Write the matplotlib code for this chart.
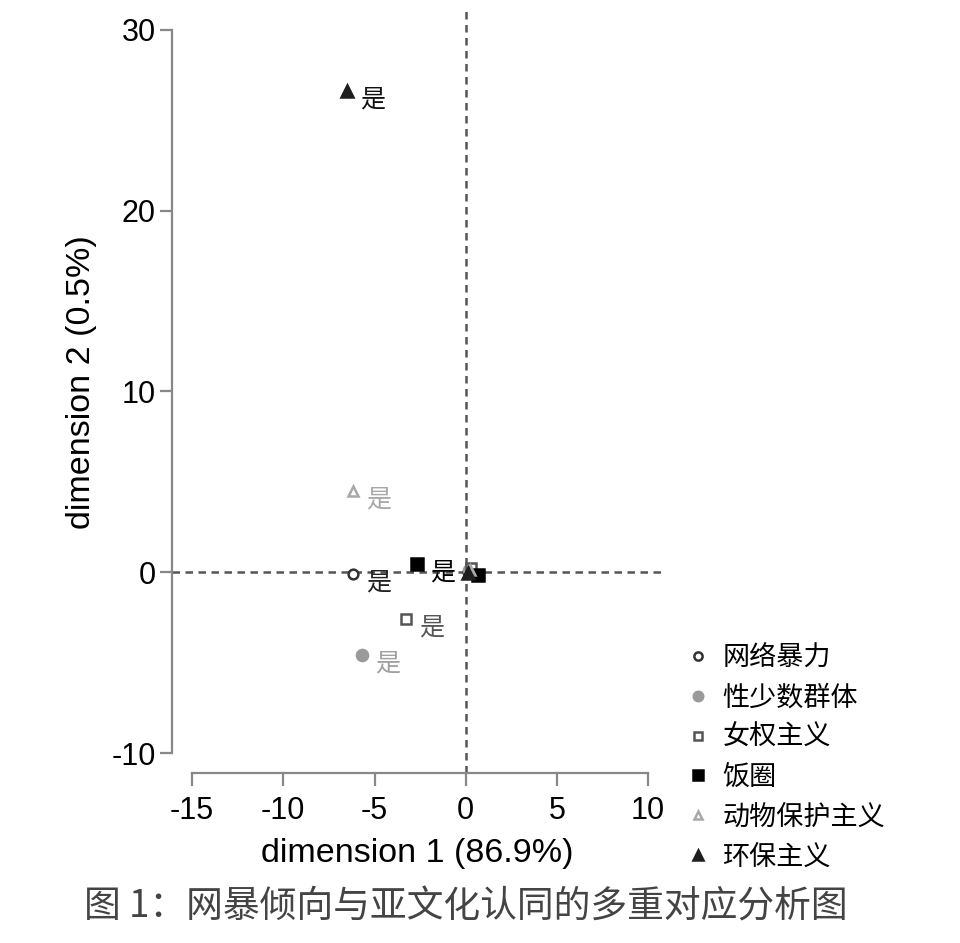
import numpy as np
import matplotlib.pyplot as plt
from matplotlib.lines import Line2D

plt.rcParams['font.family'] = ['Liberation Sans', 'Noto Sans CJK SC', 'DejaVu Sans']

# categories and coordinates ("是" = yes, "否" = no near origin)
groups = ['网络暴力', '性少数群体', '女权主义', '饭圈', '动物保护主义', '环保主义']
yes_x = [-6.2, -5.7, -3.3, -2.65, -6.2, -6.5]
yes_y = [-0.1, -4.6, -2.6, 0.45, 4.5, 26.6]
no_x = [0.1, 0.2, 0.3, 0.65, 0.25, 0.1]
no_y = [0.0, 0.1, 0.25, -0.15, 0.1, -0.05]
yes_label = '是'

markers = ['o', 'o', 's', 's', '^', '^']
edge_cols = ['#333333', '#9a9a9a', '#555555', '#000000', '#a8a8a8', '#1e1e1e']
face_cols = ['white', '#9a9a9a', 'white', '#000000', 'white', '#1e1e1e']
text_cols = ['#222222', '#a0a0a0', '#555555', '#000000', '#a8a8a8', '#111111']
sizes = [7, 8, 7, 8.5, 7.5, 9]

xticks = [-15, -10, -5, 0, 5, 10]
yticks = [-10, 0, 10, 20, 30]

fig = plt.figure(figsize=(9.6, 9.43), dpi=100)
ax = fig.add_axes([0.1792, 0.1803, 0.5115, 0.8093])

ax.axhline(0, color='#555555', linestyle=(0, (3, 2.2)), linewidth=1.8, zorder=1)
ax.axvline(0, color='#555555', linestyle=(0, (3, 2.2)), linewidth=1.8, zorder=1)

for i in range(len(groups)):
    ax.plot(no_x[i], no_y[i], marker=markers[i], markersize=sizes[i],
            markerfacecolor=face_cols[i], markeredgecolor=edge_cols[i],
            markeredgewidth=1.8, linestyle='none', zorder=3)
    ax.plot(yes_x[i], yes_y[i], marker=markers[i], markersize=sizes[i],
            markerfacecolor=face_cols[i], markeredgecolor=edge_cols[i],
            markeredgewidth=1.8, linestyle='none', zorder=3)
    ax.annotate(yes_label, (yes_x[i], yes_y[i]), xytext=(18.5, -6),
                textcoords='offset points', ha='center', va='center',
                fontsize=18, color=text_cols[i])

ax.set_xlim(-16.1, 10.82)
ax.set_ylim(-11.1, 31.1)
ax.set_xticks(xticks)
ax.set_yticks(yticks)
ax.set_xticklabels([str(t) for t in xticks])
ax.set_yticklabels([str(t) for t in yticks])

for s in ['top', 'right']:
    ax.spines[s].set_visible(False)
ax.spines['left'].set_bounds(-10, 30)
ax.spines['bottom'].set_bounds(-15, 10)
for s in ['left', 'bottom']:
    ax.spines[s].set_color('#888888')
    ax.spines[s].set_linewidth(1.6)

ax.tick_params(axis='x', length=9.5, width=1.6, color='#888888', labelsize=22, pad=7)
ax.tick_params(axis='y', length=8.6, width=1.6, color='#888888', labelsize=22, pad=3)

ax.set_xlabel('dimension 1 (86.9%)', fontsize=24.5)
ax.set_ylabel('dimension 2 (0.5%)', fontsize=24.5)
ax.xaxis.label.set_va('center')
ax.yaxis.label.set_va('center')
ax.xaxis.set_label_coords(0.50, -0.106)
ax.yaxis.set_label_coords(-0.185, 0.512)

handles = [Line2D([], [], marker=markers[i], markersize=sizes[i] * 0.85,
                  markerfacecolor=face_cols[i], markeredgecolor=edge_cols[i],
                  markeredgewidth=1.8, linestyle='none') for i in range(len(groups))]
fig.legend(handles, groups, loc='upper left', bbox_to_anchor=(0.7125, 0.3155),
           frameon=False, fontsize=19.5, handlelength=1.0, handletextpad=0.42,
           labelspacing=0.51, borderpad=0, borderaxespad=0)

fig.text(0.4855, 0.038, '图 1：网暴倾向与亚文化认同的多重对应分析图', ha='center', va='center',
         fontsize=26.5, color='#444444', family=['Noto Sans CJK SC'], fontweight='light')

fig.savefig('out.png', dpi=100, facecolor='white')
